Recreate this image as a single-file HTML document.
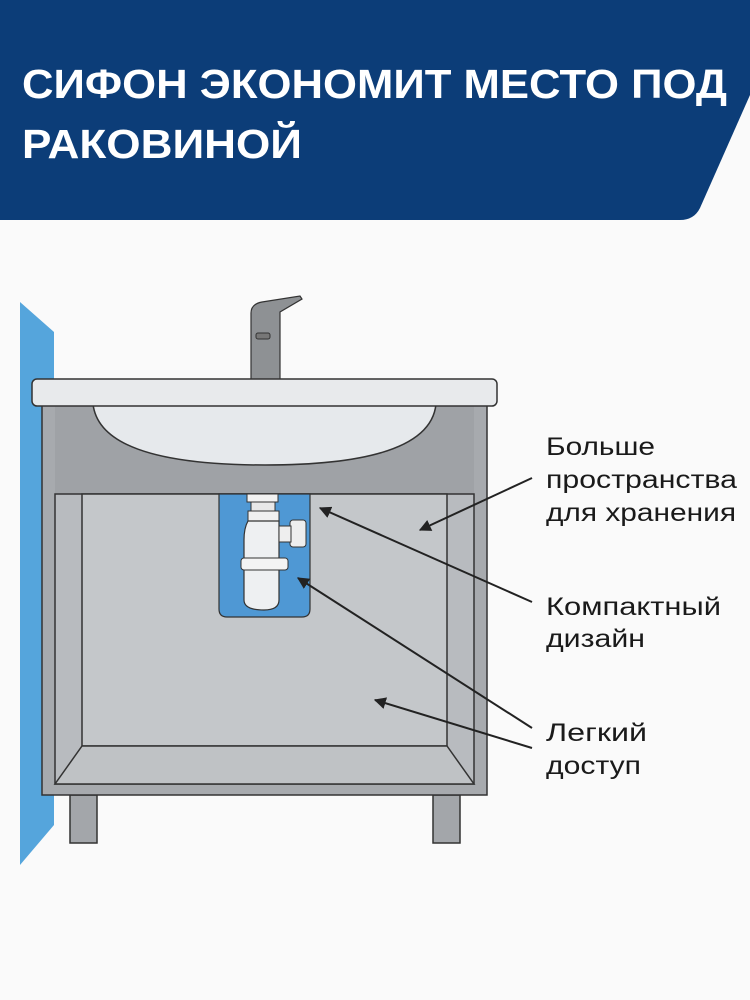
<!DOCTYPE html>
<html><head><meta charset="utf-8"><style>
html,body{margin:0;padding:0;background:#fafafa;}
body{width:750px;height:1000px;overflow:hidden;position:relative;font-family:"Liberation Sans",sans-serif;}
</style></head><body>
<svg width="750" height="1000" viewBox="0 0 750 1000" xmlns="http://www.w3.org/2000/svg" style="position:absolute;left:0;top:0">
<rect width="750" height="1000" fill="#fafafa"/>
<path d="M0 0 H750 V95 L700 208 Q694 220 680 220 H0 Z" fill="#0c3d78"/>
<text x="22" y="98" fill="#fff" font-family="Liberation Sans,sans-serif" font-weight="bold" font-size="41" textLength="705" lengthAdjust="spacingAndGlyphs">СИФОН ЭКОНОМИТ МЕСТО ПОД</text>
<text x="22" y="158" fill="#fff" font-family="Liberation Sans,sans-serif" font-weight="bold" font-size="41" textLength="280" lengthAdjust="spacingAndGlyphs">РАКОВИНОЙ</text>
<!-- wall -->
<polygon points="20,302 54,332 54,825 20,865" fill="#55a5dc"/>
<!-- legs -->
<rect x="70" y="795" width="27" height="48" fill="#a3a6aa" stroke="#333" stroke-width="1.5"/>
<rect x="433" y="795" width="27" height="48" fill="#a3a6aa" stroke="#333" stroke-width="1.5"/>
<!-- cabinet -->
<rect x="42" y="404" width="445" height="391" fill="#a7aaae" stroke="#333" stroke-width="1.5"/>
<rect x="55" y="404" width="419" height="90" fill="#9fa2a6"/>
<rect x="55" y="494" width="419" height="290" fill="#b8bbbf" stroke="#333" stroke-width="1.5"/>
<rect x="82" y="494" width="365" height="252" fill="#c4c7ca" stroke="#333" stroke-width="1.5"/>
<polygon points="82,746 447,746 474,784 55,784" fill="#bfc2c5" stroke="#333" stroke-width="1.5"/>
<!-- basin -->
<path d="M93 404 Q100 465 265 465 Q430 465 436 404 Z" fill="#e6e9ec" stroke="#333" stroke-width="1.5"/>
<!-- faucet -->
<path d="M251 380 V313 Q251 304 262 302 L300 296 L302 299 L280 312 V380 Z" fill="#8e9194" stroke="#333" stroke-width="1.2"/>
<rect x="256" y="333" width="14" height="6" rx="2" fill="#777" stroke="#333" stroke-width="1"/>
<!-- counter -->
<rect x="32" y="379" width="465" height="27" rx="5" fill="#e8eaec" stroke="#333" stroke-width="1.5"/>
<!-- siphon box -->
<path d="M219 494 H310 V609 Q310 617 302 617 H227 Q219 617 219 609 Z" fill="#4f98d4" stroke="#333" stroke-width="1.2"/>
<rect x="247" y="494" width="31" height="8" fill="#f2f2f2" stroke="#333" stroke-width="1"/>
<rect x="251" y="502" width="24" height="9" fill="#e8e8e8" stroke="#333" stroke-width="1"/>
<rect x="248" y="511" width="31" height="10" fill="#f0f0f0" stroke="#333" stroke-width="1"/>
<rect x="290" y="520" width="16" height="27" rx="3" fill="#eee" stroke="#333" stroke-width="1"/>
<path d="M248 521 H279 V600 Q279 610 264 610 Q244 610 244 600 V540 Q244 528 248 521 Z" fill="#eef0f2" stroke="#333" stroke-width="1.2"/>
<rect x="279" y="526" width="12" height="16" fill="#eee" stroke="#333" stroke-width="1"/>
<rect x="241" y="558" width="47" height="12" rx="3" fill="#f4f4f4" stroke="#333" stroke-width="1"/>
<!-- arrows -->
<defs><marker id="a" viewBox="0 0 10 10" refX="9" refY="5" markerWidth="6" markerHeight="6" orient="auto"><path d="M0 0 L10 5 L0 10 Z" fill="#222"/></marker></defs>
<g stroke="#222" stroke-width="2" fill="none" marker-end="url(#a)">
<line x1="532" y1="478" x2="420" y2="530"/>
<line x1="532" y1="602" x2="320" y2="508"/>
<line x1="532" y1="728" x2="298" y2="578"/>
<line x1="532" y1="748" x2="375" y2="700"/>
</g>
<g font-family="Liberation Sans,sans-serif" font-size="25" fill="#1a1a1a" lengthAdjust="spacingAndGlyphs">
<text x="546" y="455" textLength="109" lengthAdjust="spacingAndGlyphs">Больше</text>
<text x="546" y="488" textLength="191" lengthAdjust="spacingAndGlyphs">пространства</text>
<text x="546" y="521" textLength="190" lengthAdjust="spacingAndGlyphs">для хранения</text>
<text x="546" y="615" textLength="175" lengthAdjust="spacingAndGlyphs">Компактный</text>
<text x="546" y="647" textLength="99" lengthAdjust="spacingAndGlyphs">дизайн</text>
<text x="546" y="741" textLength="101" lengthAdjust="spacingAndGlyphs">Легкий</text>
<text x="546" y="774" textLength="95" lengthAdjust="spacingAndGlyphs">доступ</text>
</g>
</svg>
</body></html>
